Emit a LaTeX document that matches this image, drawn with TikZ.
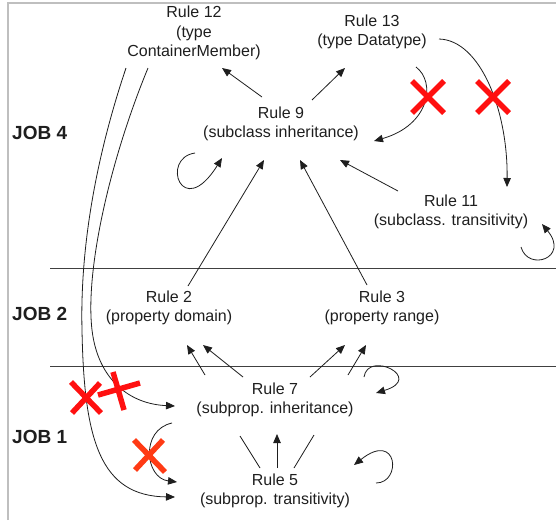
\documentclass[tikz,border=0pt]{standalone}
\usepackage{fontspec}
\setmainfont{Liberation Sans}
\usetikzlibrary{arrows.meta}
\definecolor{txt}{HTML}{1E1E1E}
\definecolor{xred}{HTML}{FF1010}
\definecolor{xorange}{HTML}{FF3A14}
\tikzset{
  rule/.style={align=center, inner sep=0pt, text=txt, font=\fontsize{16}{19.5}\selectfont},
  joblabel/.style={anchor=west, inner sep=0pt, text=txt, font=\fontsize{19}{22}\selectfont\bfseries},
  arr/.style={draw=txt, line width=0.8pt, -{Triangle[length=9pt,width=7.5pt]}},
  plain/.style={draw=txt, line width=0.8pt},
  sep/.style={draw=black!75, line width=0.9pt},
  frameline/.style={draw=black!25, line width=1.4pt},
  xmark/.style={draw=xred, line width=5.5pt},
  xmarko/.style={draw=xorange, line width=5.5pt},
}
\begin{document}
\begin{tikzpicture}[x=1pt,y=-1pt]
\useasboundingbox (0,0) rectangle (556,520);
% frame
\draw[frameline] (8,520) -- (8,3) -- (556,3);
% separators
\draw[sep] (50,268) -- (556,268);
\draw[sep] (50,366) -- (556,366);
% job labels
\node[joblabel] (j4) at (12,133) {JOB 4};
\node[joblabel] (j2) at (12,314) {JOB 2};
\node[joblabel] (j1) at (12,437) {JOB 1};
% rules
\node[rule] (r12) at (194,33) {Rule 12\\(type\\ContainerMember)};
\node[rule] (r13) at (372,32) {Rule 13\\(type Datatype)};
\node[rule] (r9) at (281,124) {Rule 9\\(subclass inheritance)};
\node[rule] (r11) at (451,212) {Rule 11\\(subclass. transitivity)};
\node[rule] (r2) at (169,308) {Rule 2\\(property domain)};
\node[rule] (r3) at (382,308) {Rule 3\\(property range)};
\node[rule] (r7) at (275,400) {Rule 7\\(subprop. inheritance)};
\node[rule] (r5) at (275,491) {Rule 5\\(subprop. transitivity)};
% job 4 arrows
\draw[arr] ([shift={(-19,-27)}]r9.center) -- ([shift={(28,35)}]r12.center);
\draw[arr] ([shift={(31,-24)}]r9.center) -- ([shift={(-27,36)}]r13.center);
\draw[arr] ([shift={(44,35)}]r13.center) .. controls (436,82) and (430,125) .. ([shift={(93,17)}]r9.center);
\draw[arr] ([shift={(67,7)}]r13.center) .. controls (480,40) and (508,110) .. ([shift={(56,-25)}]r11.center);
\draw[arr] ([shift={(-53,-21)}]r11.center) -- ([shift={(59,36)}]r9.center);
\draw[arr] ([shift={(-86,29)}]r9.center) .. controls (160,158) and (182,222) .. ([shift={(-59,34)}]r9.center);
\draw[arr] ([shift={(70,35)}]r11.center) .. controls (528,272) and (570,258) .. ([shift={(91,12)}]r11.center);
% job 2 -> job 4
\draw[arr] ([shift={(19,-22)}]r2.center) -- ([shift={(-17,36)}]r9.center);
\draw[arr] ([shift={(-15,-23)}]r3.center) -- ([shift={(19,36)}]r9.center);
% job 1 -> job 2
\draw[arr] ([shift={(-70,-25)}]r7.center) -- ([shift={(18,37)}]r2.center);
\draw[arr] ([shift={(-32,-23)}]r7.center) -- ([shift={(34,37)}]r2.center);
\draw[arr] ([shift={(35,-23)}]r7.center) -- ([shift={(-37,37)}]r3.center);
\draw[arr] ([shift={(73,-25)}]r7.center) -- ([shift={(-16,37)}]r3.center);
\draw[arr] ([shift={(89,-23)}]r7.center) .. controls (368,350) and (425,378) .. ([shift={(101,-7)}]r7.center);
% rule 5 -> rule 7
\draw[plain] ([shift={(-15,-23)}]r5.center) -- ([shift={(-35,36)}]r7.center);
\draw[arr] ([shift={(2,-23)}]r5.center) -- ([shift={(2,34)}]r7.center);
\draw[plain] ([shift={(19,-23)}]r5.center) -- ([shift={(39,35)}]r7.center);
\draw[arr] ([shift={(101,-8)}]r5.center) .. controls (402,483) and (398,430) .. ([shift={(79,-26)}]r5.center);
\draw[arr] ([shift={(-103,23)}]r7.center) .. controls (140,430) and (145,478) .. ([shift={(-98,-9)}]r5.center);
% long curves from rule 12
\draw[arr] ([shift={(-46,35)}]r12.center) .. controls (110,160) and (85,270) .. (92,330) .. controls (98,380) and (130,404) .. ([shift={(-100,6)}]r7.center);
\draw[arr] ([shift={(-68,35)}]r12.center) .. controls (95,160) and (80,250) .. (82,330) .. controls (84,440) and (100,496) .. ([shift={(-100,6)}]r5.center);
% red crosses
\draw[xmark] (412,81) -- (444,113) (444,81) -- (412,113);
\draw[xmark] (477,81) -- (509,113) (509,81) -- (477,113);
\draw[xmark] (71,382) -- (101,413) (100,383) -- (72,413);
\draw[xmark] (98,395) -- (140,383) (113,372) -- (124,410);
\draw[xmarko] (134,440) -- (165,472) (163,440) -- (135,470);
\end{tikzpicture}
\end{document}
